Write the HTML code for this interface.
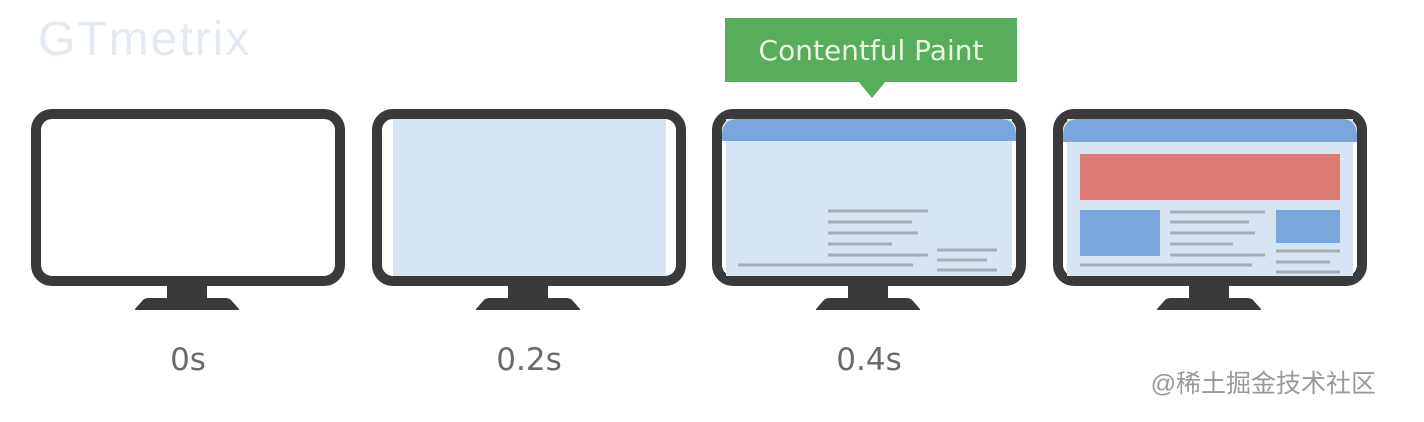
<!DOCTYPE html>
<html><head><meta charset="utf-8"><style>
html,body{margin:0;padding:0;background:#fff;}
svg{display:block;}
</style></head><body>
<svg width="1424" height="422" viewBox="0 0 1424 422" xmlns="http://www.w3.org/2000/svg">
<defs>
<g id="mon">
  <rect x="5" y="5" width="304" height="167" rx="16" fill="#fff" stroke="#3a3a3a" stroke-width="10"/>
  <rect x="136" y="176" width="40" height="15" fill="#3a3a3a"/>
  <path d="M104 200 L112 191 Q114 189 118 189 L194 189 Q198 189 200 191 L208 200 L208 201 L104 201 Z" fill="#3a3a3a"/>
</g>
</defs>
<text x="38" y="55" font-family="Liberation Sans, sans-serif" font-size="48" fill="#e3eaf1" letter-spacing="2">GTmetrix</text>

<use href="#mon" x="31" y="109"/>
<g transform="translate(372,109)">
  <use href="#mon"/>
  <rect x="21" y="10" width="273" height="157" fill="#d6e5f1"/>
</g>
<g transform="translate(712,109)">
  <use href="#mon"/>
  <rect x="14" y="10" width="286" height="157" fill="#d6e5f1"/>
  <path d="M10 26 Q10 10 26 10 L288 10 Q304 10 304 26 L304 32 L10 32 Z" fill="#7ba6dc"/>
  <g stroke="#a5adb6" stroke-width="3">
    <line x1="116" y1="102" x2="216" y2="102"/>
    <line x1="116" y1="113" x2="200" y2="113"/>
    <line x1="116" y1="124" x2="206" y2="124"/>
    <line x1="116" y1="135" x2="180" y2="135"/>
    <line x1="116" y1="146" x2="216" y2="146"/>
    <line x1="26" y1="156" x2="201" y2="156"/>
    <line x1="225" y1="141" x2="285" y2="141"/>
    <line x1="225" y1="151" x2="275" y2="151"/>
    <line x1="225" y1="161" x2="285" y2="161"/>
  </g>
</g>
<g transform="translate(1053,109)">
  <use href="#mon"/>
  <rect x="14" y="10" width="286" height="157" fill="#d6e5f1"/>
  <path d="M10 26 Q10 10 26 10 L288 10 Q304 10 304 26 L304 33 L10 33 Z" fill="#7ba6dc"/>
  <rect x="27" y="45" width="260" height="46" fill="#dd7a73"/>
  <rect x="27" y="101" width="80" height="46" fill="#7ba6dc"/>
  <rect x="223" y="101" width="64" height="33" fill="#7ba6dc"/>
  <g stroke="#a5adb6" stroke-width="3">
    <line x1="117" y1="103" x2="212" y2="103"/>
    <line x1="117" y1="113" x2="196" y2="113"/>
    <line x1="117" y1="124" x2="202" y2="124"/>
    <line x1="117" y1="135" x2="180" y2="135"/>
    <line x1="117" y1="146" x2="212" y2="146"/>
    <line x1="27" y1="156" x2="199" y2="156"/>
    <line x1="223" y1="142" x2="287" y2="142"/>
    <line x1="223" y1="153" x2="277" y2="153"/>
    <line x1="223" y1="163" x2="287" y2="163"/>
  </g>
</g>

<rect x="725" y="18" width="292" height="64" fill="#57ad5b"/>
<path d="M858 81 L872 98 L886 81 Z" fill="#57ad5b"/>
<text x="871" y="60" text-anchor="middle" font-family="DejaVu Sans, Liberation Sans, sans-serif" font-size="28" fill="#e8f7e0">Contentful Paint</text>

<g font-family="DejaVu Sans, Liberation Sans, sans-serif" font-size="31" fill="#6a6a6a" text-anchor="middle">
  <text x="188" y="370">0s</text>
  <text x="529" y="370">0.2s</text>
  <text x="869" y="370">0.4s</text>
</g>
<text x="1376" y="392" text-anchor="end" font-family="Liberation Sans, 'Noto Sans CJK SC', sans-serif" font-size="25" fill="#999">@稀土掘金技术社区</text>
</svg>
</body></html>
